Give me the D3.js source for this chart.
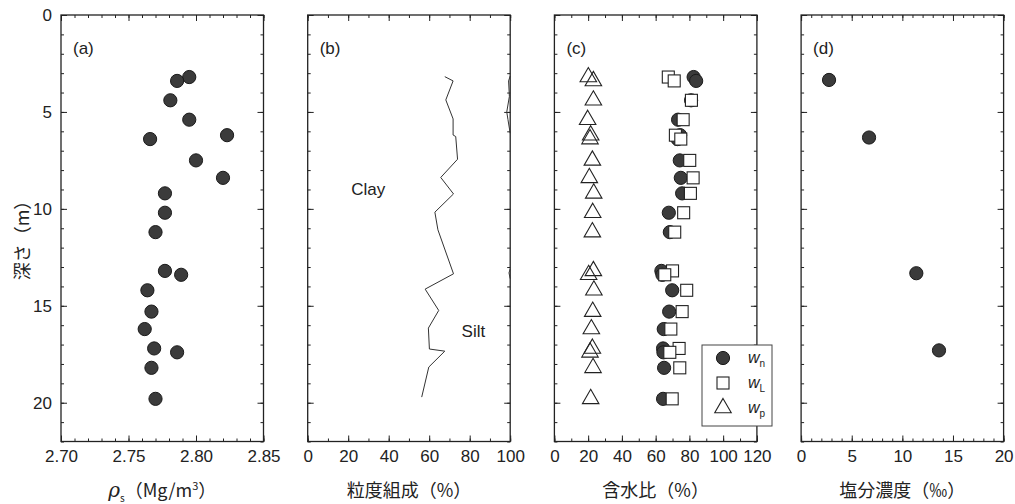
<!DOCTYPE html>
<html>
<head>
<meta charset="utf-8">
<script src="https://cdn.jsdelivr.net/npm/d3@7"></script>
<style>
  body { margin: 0; background: #fff; }
  svg { display: block; }
</style>
</head>
<body>
<script>
// sample depths (m), shared by (a) and (c)
const depth = [3.2, 3.4, 4.4, 5.4, 6.2, 6.4, 7.5, 8.4, 9.2, 10.2, 11.2, 13.2, 13.4, 14.2, 15.3, 16.2, 17.2, 17.4, 18.2, 19.8];

// (a) particle density
const rhoS = [2.795, 2.786, 2.781, 2.795, 2.823, 2.766, 2.800, 2.820, 2.777, 2.777, 2.770, 2.777, 2.789, 2.764, 2.767, 2.762, 2.769, 2.786, 2.767, 2.770];

// (b) grain size: clay / silt boundary and silt / sand boundary
const clayDepth = [3.18, 3.40, 4.38, 5.36, 6.19, 6.27, 7.44, 8.38, 9.23, 10.17, 11.08, 13.35, 14.14, 15.24, 16.15, 17.23, 17.34, 18.16, 19.71];
const clayVal = [67.7, 71.8, 68.2, 71.8, 71.8, 73.1, 74.0, 65.7, 72.0, 62.8, 64.3, 72.0, 58.0, 64.7, 59.6, 60.1, 67.7, 59.8, 56.3];
const siltDepth1 = [3.15, 3.4, 4.2, 5.0, 5.4, 6.1];
const siltVal1 = [100, 99.2, 99.6, 98.3, 98.9, 100];
const siltDepth2 = [13.1, 13.3, 13.6];
const siltVal2 = [100, 99.4, 100];

// (c) water content
const wn = [82.5, 84.0, 81.0, 73.3, 74.5, 73.0, 74.3, 74.9, 75.7, 67.8, 68.4, 63.4, 64.0, 69.8, 68.0, 64.8, 64.4, 64.6, 65.0, 64.4];
const wL = [67.5, 71.0, 81.2, 76.3, 71.7, 74.9, 80.2, 82.2, 80.6, 76.6, 71.3, 70.0, 65.4, 78.4, 75.7, 69.0, 73.9, 68.4, 74.3, 69.8];
const wp = [20.1, 23.1, 23.1, 19.7, 21.5, 21.1, 22.5, 20.7, 23.3, 22.7, 22.5, 23.1, 20.3, 23.4, 22.7, 21.9, 22.5, 21.1, 22.9, 21.5];

// (d) salinity
const salDepth = [3.35, 6.32, 13.32, 17.30];
const salVal = [2.76, 6.71, 11.38, 13.62];

const depthTicks = [0, 5, 10, 15, 20];

const width = 1015, height = 504;
const plotTop = 15, plotBottom = 441.5, pw = 202.5;
const lefts = [61, 307.7, 554.4, 801.1];

const panels = [
  {key: "a", domain: [2.70, 2.85], major: [2.70, 2.75, 2.80, 2.85], minor: d3.range(2.70, 2.855, 0.01), fmt: d3.format(".2f")},
  {key: "b", domain: [0, 100], major: d3.range(0, 101, 20), minor: d3.range(0, 101, 10), fmt: d3.format("d")},
  {key: "c", domain: [0, 120], major: d3.range(0, 121, 20), minor: d3.range(0, 121, 10), fmt: d3.format("d")},
  {key: "d", domain: [0, 20], major: d3.range(0, 21, 5), minor: d3.range(0, 21, 1), fmt: d3.format("d")}
];

const ink = "#222";
const dotFill = "#3b3b3b";

const svg = d3.select("body").append("svg")
    .attr("width", width)
    .attr("height", height)
    .style("font-family", "'Liberation Sans', Arial, sans-serif");

const y = d3.scaleLinear().domain([0, 22]).range([plotTop, plotBottom]);

panels.forEach((p, i) => {
  p.x = d3.scaleLinear().domain(p.domain).range([lefts[i], lefts[i] + pw]);
  const g = svg.append("g");

  // minor ticks all round, pointing inward
  g.append("g").attr("transform", `translate(0,${plotBottom})`)
      .call(d3.axisBottom(p.x).tickValues(p.minor).tickSize(-3).tickFormat(""));
  g.append("g").attr("transform", `translate(0,${plotTop})`)
      .call(d3.axisTop(p.x).tickValues(p.minor).tickSize(-3).tickFormat(""));
  g.append("g").attr("transform", `translate(0,${plotBottom})`)
      .call(d3.axisBottom(p.x).tickValues(p.major).tickSize(-6).tickPadding(8).tickFormat(p.fmt));
  g.append("g").attr("transform", `translate(0,${plotTop})`)
      .call(d3.axisTop(p.x).tickValues(p.major).tickSize(-6).tickFormat(""));

  g.append("g").attr("transform", `translate(${lefts[i]},0)`)
      .call(d3.axisLeft(y).tickValues(d3.range(0, 23, 1)).tickSize(-3).tickFormat(""));
  g.append("g").attr("transform", `translate(${lefts[i] + pw},0)`)
      .call(d3.axisRight(y).tickValues(d3.range(0, 23, 1)).tickSize(-3).tickFormat(""));
  g.append("g").attr("transform", `translate(${lefts[i]},0)`)
      .call(d3.axisLeft(y).tickValues(depthTicks).tickSize(-6).tickPadding(9)
        .tickFormat(i === 0 ? d3.format("d") : ""));
  g.append("g").attr("transform", `translate(${lefts[i] + pw},0)`)
      .call(d3.axisRight(y).tickValues(depthTicks).tickSize(-6).tickFormat(""));

  g.selectAll(".domain").remove();
  g.selectAll(".tick line").attr("stroke", ink);
  g.selectAll(".tick text").attr("fill", ink).style("font-size", "17px");

  g.append("rect")
      .attr("x", lefts[i]).attr("y", plotTop)
      .attr("width", pw).attr("height", plotBottom - plotTop)
      .attr("fill", "none").attr("stroke", ink).attr("stroke-width", 1.3);

  g.append("text")
      .attr("x", lefts[i] + 12).attr("y", 54)
      .attr("fill", ink).style("font-size", "17px")
      .text(`(${p.key})`);
});

const [pa, pb, pc, pd] = panels;

// (a)
svg.append("g").selectAll("circle")
  .data(depth.map((d, i) => [rhoS[i], d]))
  .join("circle")
    .attr("cx", d => pa.x(d[0]))
    .attr("cy", d => y(d[1]))
    .attr("r", 6.6)
    .attr("fill", dotFill)
    .attr("stroke", "#1a1a1a");

// (b)
const line = d3.line().x(d => pb.x(d[0])).y(d => y(d[1]));
svg.append("path")
    .attr("d", line(clayDepth.map((d, i) => [clayVal[i], d])))
    .attr("fill", "none").attr("stroke", "#333").attr("stroke-width", 1);
[[siltVal1, siltDepth1], [siltVal2, siltDepth2]].forEach(([v, dd]) => {
  svg.append("path")
      .attr("d", line(dd.map((d, i) => [v[i], d])))
      .attr("fill", "none").attr("stroke", "#333").attr("stroke-width", 1);
});
svg.append("text").attr("x", pb.x(21.5)).attr("y", y(9.3))
    .attr("fill", ink).style("font-size", "17px").text("Clay");
svg.append("text").attr("x", pb.x(76)).attr("y", y(16.6))
    .attr("fill", ink).style("font-size", "17px").text("Silt");

// (c)
const tri = d3.symbol(d3.symbolTriangle, 118);
svg.append("g").selectAll("path")
  .data(depth.map((d, i) => [wp[i], d]))
  .join("path")
    .attr("transform", d => `translate(${pc.x(d[0])},${y(d[1])})`)
    .attr("d", tri)
    .attr("fill", "none").attr("stroke", ink).attr("stroke-width", 1.1);
svg.append("g").selectAll("circle")
  .data(depth.map((d, i) => [wn[i], d]))
  .join("circle")
    .attr("cx", d => pc.x(d[0]))
    .attr("cy", d => y(d[1]))
    .attr("r", 6.6)
    .attr("fill", dotFill).attr("stroke", "#1a1a1a");
svg.append("g").selectAll("rect")
  .data(depth.map((d, i) => [wL[i], d]))
  .join("rect")
    .attr("x", d => pc.x(d[0]) - 6)
    .attr("y", d => y(d[1]) - 6)
    .attr("width", 12).attr("height", 12)
    .attr("fill", "#fff").attr("stroke", ink).attr("stroke-width", 1.1);

// legend
const lg = svg.append("g").attr("transform", "translate(702,345)");
lg.append("rect").attr("width", 70).attr("height", 81)
    .attr("fill", "#fff").attr("stroke", "#444").attr("stroke-width", 1);
const legendItems = [["n", "circle"], ["L", "square"], ["p", "triangle"]];
legendItems.forEach(([sub, shape], k) => {
  const cy = 13 + k * 25;
  if (shape === "circle") {
    lg.append("circle").attr("cx", 21).attr("cy", cy).attr("r", 6.6)
        .attr("fill", dotFill).attr("stroke", "#1a1a1a");
  } else if (shape === "square") {
    lg.append("rect").attr("x", 15).attr("y", cy - 6).attr("width", 12).attr("height", 12)
        .attr("fill", "#fff").attr("stroke", ink).attr("stroke-width", 1.1);
  } else {
    lg.append("path").attr("transform", `translate(21,${cy})`).attr("d", tri)
        .attr("fill", "none").attr("stroke", ink).attr("stroke-width", 1.1);
  }
  const t = lg.append("text").attr("x", 46).attr("y", cy + 5).attr("fill", ink);
  t.append("tspan").style("font-style", "italic").style("font-size", "16px").text("w");
  t.append("tspan").attr("dy", 4).style("font-size", "10px").text(sub);
});

// (d)
svg.append("g").selectAll("circle")
  .data(salDepth.map((d, i) => [salVal[i], d]))
  .join("circle")
    .attr("cx", d => pd.x(d[0]))
    .attr("cy", d => y(d[1]))
    .attr("r", 6.6)
    .attr("fill", dotFill).attr("stroke", "#1a1a1a");

// axis titles
const jp = "'Noto Sans CJK JP', 'Liberation Sans', sans-serif";
const ta = svg.append("text").attr("x", lefts[0] + pw / 2).attr("y", 497)
    .attr("text-anchor", "middle").attr("fill", ink).style("font-family", jp).style("font-size", "18px");
ta.append("tspan").style("font-family", "'DejaVu Serif', serif").style("font-style", "italic").style("font-size", "20px").text("ρ");
ta.append("tspan").attr("dy", 5).style("font-size", "10px").text("s");
ta.append("tspan").attr("dy", -5).text("（Mg/m");
ta.append("tspan").attr("dy", -7).style("font-size", "11px").text("3");
ta.append("tspan").attr("dy", 7).text("）");

[["粒度組成（%）", 1], ["含水比（%）", 2], ["塩分濃度（‰）", 3]].forEach(([s, i]) => {
  svg.append("text").attr("x", lefts[i] + pw / 2).attr("y", 497)
      .attr("text-anchor", "middle").attr("fill", ink)
      .style("font-family", jp).style("font-size", "18px").text(s);
});

svg.append("text")
    .attr("transform", `translate(29,${y(11.4)}) rotate(-90)`)
    .attr("text-anchor", "middle").attr("fill", ink)
    .style("font-family", jp).style("font-size", "18px").text("深さ（m）");
</script>
</body>
</html>
